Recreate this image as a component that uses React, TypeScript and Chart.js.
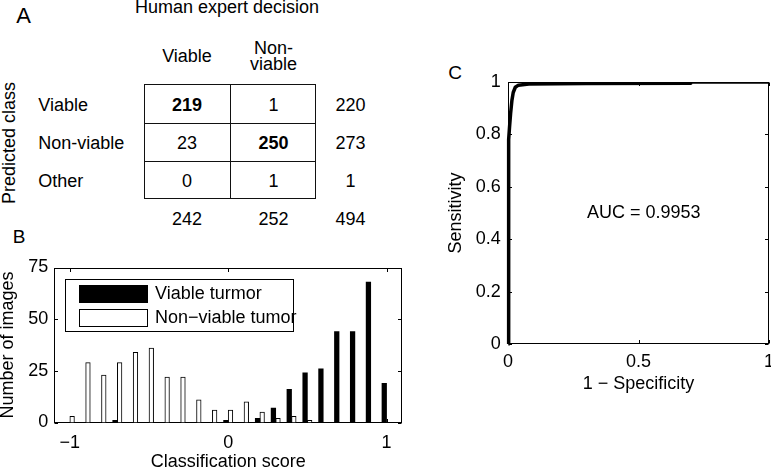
import React, { useEffect, useRef } from "react";
import { Chart, registerables } from "chart.js";

Chart.register(...registerables);

const FONT_FAMILY = '"Liberation Sans", Arial, Helvetica, sans-serif';
const FONT_SIZE = 18;

// ---- Panel A: confusion matrix ----
const expertClasses = ["Viable", "Non-viable"];
const predictedClasses = ["Viable", "Non-viable", "Other"];
const countsPredViable = [219, 1];
const countsPredNonViable = [23, 250];
const countsPredOther = [0, 1];
const rowTotals = [220, 273, 1];
const columnTotals = [242, 252];
const grandTotal = 494;

// ---- Panel B: histogram of classification scores ----
const scoreBins = [-1.0, -0.9, -0.8, -0.7, -0.6, -0.5, -0.4, -0.3, -0.2, -0.1, 0.0, 0.1, 0.2, 0.3, 0.4, 0.5, 0.6, 0.7, 0.8, 0.9, 1.0];
const viableTumorCounts = [0, 0, 0, 1, 0, 0, 0, 0, 0, 0, 1, 0, 2, 7, 16, 24, 26, 44, 44, 68, 19];
const nonViableTumorCounts = [3, 29, 23, 29, 34, 36, 22, 22, 11, 6, 6, 10, 5, 2, 3, 1, 0, 0, 0, 0, 0];
const histXTicks = [-1, 0, 1];
const histYTicks = [0, 25, 50, 75];

// ---- Panel C: ROC curve ----
const rocFpr = [0.002, 0.002, 0.003, 0.006, 0.01, 0.015, 0.02, 0.028, 0.04, 0.08, 0.3, 0.7, 0.7, 1];
const rocTpr = [0, 0.6, 0.78, 0.83, 0.88, 0.93, 0.96, 0.98, 0.988, 0.992, 0.994, 0.995, 1, 1];
const rocXTicks = [0, 0.5, 1];
const rocYTicks = [0, 0.2, 0.4, 0.6, 0.8, 1];
const aucText = "AUC = 0.9953";

const font = { family: FONT_FAMILY, size: FONT_SIZE, lineHeight: 1.2 };
const fmt = (v: number) => String(v).replace("-", "\u2212");

function framePlugin(tickLen: number) {
  return {
    id: "frame",
    beforeDatasetsDraw(chart: any) {
      const { ctx, chartArea: a, scales } = chart;
      ctx.save();
      ctx.strokeStyle = "#000";
      ctx.lineWidth = 1;
      const l = Math.round(a.left) + 0.5;
      const r = Math.round(a.right) - 0.5;
      const t = Math.round(a.top) + 0.5;
      const b = Math.round(a.bottom) - 0.5;
      ctx.strokeRect(l, t, r - l, b - t);
      ctx.beginPath();
      scales.x.ticks.forEach((tk: any) => {
        const px = Math.round(scales.x.getPixelForValue(tk.value)) + 0.5;
        ctx.moveTo(px, b);
        ctx.lineTo(px, b - tickLen);
        ctx.moveTo(px, t);
        ctx.lineTo(px, t + tickLen);
      });
      scales.y.ticks.forEach((tk: any) => {
        const py = Math.round(scales.y.getPixelForValue(tk.value)) + 0.5;
        ctx.moveTo(l, py);
        ctx.lineTo(l + tickLen, py);
        ctx.moveTo(r, py);
        ctx.lineTo(r - tickLen, py);
      });
      ctx.stroke();
      ctx.restore();
    },
  };
}

const histLegendPlugin = {
  id: "histLegend",
  afterDatasetsDraw(chart: any) {
    const { ctx, chartArea: a } = chart;
    const x0 = Math.round(a.left) + 11;
    const y0 = Math.round(a.top) + 11;
    const w = 228;
    const h = 52;
    ctx.save();
    ctx.fillStyle = "#fff";
    ctx.fillRect(x0, y0, w, h);
    ctx.strokeStyle = "#000";
    ctx.lineWidth = 1;
    ctx.strokeRect(x0 + 0.5, y0 + 0.5, w, h);
    ctx.font = `${FONT_SIZE}px ${FONT_FAMILY}`;
    ctx.textBaseline = "middle";
    ctx.textAlign = "left";
    chart.data.datasets.forEach((ds: any, i: number) => {
      const sy = y0 + 6 + i * 24;
      ctx.fillStyle = ds.backgroundColor;
      ctx.fillRect(x0 + 14, sy, 69, 18);
      if (ds.borderWidth) {
        ctx.strokeStyle = ds.borderColor;
        ctx.strokeRect(x0 + 14.5, sy + 0.5, 68, 17);
      }
      ctx.fillStyle = "#000";
      ctx.fillText(ds.label, x0 + 90, sy + 9.5);
    });
    ctx.restore();
  },
};

const aucPlugin = {
  id: "auc",
  afterDatasetsDraw(chart: any) {
    const { ctx, scales } = chart;
    ctx.save();
    ctx.font = `${FONT_SIZE}px ${FONT_FAMILY}`;
    ctx.fillStyle = "#000";
    ctx.textAlign = "center";
    ctx.textBaseline = "middle";
    ctx.fillText(aucText, scales.x.getPixelForValue(0.52), scales.y.getPixelForValue(0.5));
    ctx.restore();
  },
};

function Txt(props: { x: number; y: number; text: string | number; size?: number; bold?: boolean; rotate?: boolean; left?: boolean }) {
  const { x, y, text, size = FONT_SIZE, bold = false, rotate = false, left = false } = props;
  return (
    <div
      style={{
        position: "absolute",
        left: x,
        top: y,
        transform: `translate(${left ? "0" : "-50%"}, -50%)${rotate ? " rotate(-90deg)" : ""}`,
        fontFamily: FONT_FAMILY,
        fontSize: size,
        lineHeight: 1,
        whiteSpace: "nowrap",
        fontWeight: bold ? 700 : 400,
        color: "#000",
      }}
    >
      {text}
    </div>
  );
}

export default function App() {
  const histRef = useRef<HTMLCanvasElement>(null);
  const rocRef = useRef<HTMLCanvasElement>(null);

  useEffect(() => {
    const hist = new Chart(histRef.current as HTMLCanvasElement, {
      type: "bar",
      data: {
        datasets: [
          {
            label: "Viable turmor",
            data: scoreBins.map((x, i) => ({ x, y: viableTumorCounts[i] > 0 ? viableTumorCounts[i] : null })),
            backgroundColor: "#000",
            borderWidth: 0,
            barThickness: 4.6,
          },
          {
            label: "Non\u2212viable tumor",
            data: scoreBins.map((x, i) => ({ x, y: nonViableTumorCounts[i] > 0 ? nonViableTumorCounts[i] : null })),
            backgroundColor: "#fff",
            borderColor: "#000",
            borderWidth: 1,
            barThickness: 4.6,
          },
        ],
      } as any,
      options: {
        animation: false,
        responsive: false,
        devicePixelRatio: 1,
        layout: { padding: { left: 0, right: 27.6, top: 37.5, bottom: 0 } },
        plugins: { legend: { display: false }, tooltip: { enabled: false } },
        scales: {
          x: {
            type: "linear",
            min: -1.1,
            max: 1.1,
            offset: false,
            afterBuildTicks: (s: any) => {
              s.ticks = histXTicks.map((v) => ({ value: v }));
            },
            afterFit: (s: any) => {
              s.height = 57.5;
            },
            grid: { display: false, drawTicks: false },
            border: { display: false },
            ticks: { padding: 9.4, color: "#000", font, maxRotation: 0, autoSkip: false, callback: (v: any) => fmt(v) },
            title: { display: true, text: "Classification score", color: "#000", font, padding: { top: 0, bottom: 7.2 } },
          },
          y: {
            min: 0,
            max: 75,
            afterBuildTicks: (s: any) => {
              s.ticks = histYTicks.map((v) => ({ value: v }));
            },
            afterFit: (s: any) => {
              s.width = 64;
            },
            grid: { display: false, drawTicks: false },
            border: { display: false },
            ticks: { padding: 5.7, color: "#000", font, callback: (v: any) => fmt(v) },
            title: { display: true, text: "Number of images", color: "#000", font, padding: { top: 7.2, bottom: 0 } },
          },
        },
      } as any,
      plugins: [framePlugin(3.5), histLegendPlugin],
    });

    const roc = new Chart(rocRef.current as HTMLCanvasElement, {
      type: "scatter",
      data: {
        datasets: [
          {
            data: rocFpr.map((x, i) => ({ x, y: rocTpr[i] })),
            showLine: true,
            borderColor: "#000",
            borderWidth: 3.5,
            pointRadius: 0,
            fill: false,
            tension: 0,
            borderJoinStyle: "round",
            clip: { left: 6, top: 0, right: 0, bottom: 2 },
          },
        ],
      } as any,
      options: {
        animation: false,
        responsive: false,
        devicePixelRatio: 1,
        layout: { padding: { left: 0, right: 11.7, top: 42, bottom: 0 } },
        plugins: { legend: { display: false }, tooltip: { enabled: false } },
        scales: {
          x: {
            type: "linear",
            min: 0,
            max: 1,
            afterBuildTicks: (s: any) => {
              s.ticks = rocXTicks.map((v) => ({ value: v }));
            },
            afterFit: (s: any) => {
              s.height = 56;
            },
            grid: { display: false, drawTicks: false },
            border: { display: false },
            ticks: { padding: 6.9, color: "#000", font, maxRotation: 0, autoSkip: false, callback: (v: any) => fmt(v) },
            title: { display: true, text: "1 \u2212 Specificity", color: "#000", font, padding: { top: 0, bottom: 5.2 } },
          },
          y: {
            min: 0,
            max: 1,
            afterBuildTicks: (s: any) => {
              s.ticks = rocYTicks.map((v) => ({ value: v }));
            },
            afterFit: (s: any) => {
              s.width = 88;
            },
            grid: { display: false, drawTicks: false },
            border: { display: false },
            ticks: { padding: 7.3, color: "#000", font, callback: (v: any) => fmt(v) },
            title: { display: true, text: "Sensitivity", color: "#000", font, padding: { top: 25.2, bottom: 0 } },
          },
        },
      } as any,
      plugins: [framePlugin(3.5), aucPlugin],
    });

    return () => {
      hist.destroy();
      roc.destroy();
    };
  }, []);

  const matrixCounts = [countsPredViable, countsPredNonViable, countsPredOther];
  const colX = [187, 273.5];
  const totalX = 350.5;
  const rowY = [105, 143, 181];
  const totalY = 219;
  const rowLabelX = 38.3;

  return (
    <div
      style={{
        position: "absolute",
        left: 0,
        top: 0,
        width: 771,
        height: 471,
        overflow: "hidden",
        background: "#fff",
      }}
    >
      {/* Panel A */}
      <Txt x={23.5} y={16.3} text="A" size={22} />
      <Txt x={227} y={6.5} text="Human expert decision" />
      <Txt x={colX[0]} y={56.3} text={expertClasses[0]} />
      <Txt x={colX[1]} y={48.3} text="Non-" />
      <Txt x={colX[1]} y={64} text="viable" />
      <Txt x={8.5} y={143} text="Predicted class" rotate />
      {predictedClasses.map((c, i) => (
        <Txt key={"r" + i} x={rowLabelX} y={rowY[i]} text={c} left />
      ))}
      <div style={{ position: "absolute", left: 144, top: 84, width: 172, height: 115, border: "1px solid #111", boxSizing: "border-box" }} />
      <div style={{ position: "absolute", left: 229.5, top: 84, width: 1, height: 115, background: "#111" }} />
      <div style={{ position: "absolute", left: 144, top: 122.5, width: 172, height: 1, background: "#111" }} />
      <div style={{ position: "absolute", left: 144, top: 160.5, width: 172, height: 1, background: "#111" }} />
      {matrixCounts.map((row, i) =>
        row.map((v, j) => <Txt key={`c${i}${j}`} x={colX[j]} y={rowY[i]} text={v} bold={i === j} />)
      )}
      {rowTotals.map((v, i) => (
        <Txt key={"rt" + i} x={totalX} y={rowY[i]} text={v} />
      ))}
      {columnTotals.map((v, j) => (
        <Txt key={"ct" + j} x={colX[j]} y={totalY} text={v} />
      ))}
      <Txt x={totalX} y={totalY} text={grandTotal} />

      {/* Panel B */}
      <Txt x={19} y={236} text="B" size={19} />
      <canvas ref={histRef} width={440} height={250} style={{ position: "absolute", left: -10, top: 230 }} />

      {/* Panel C */}
      <Txt x={455} y={71.7} text="C" size={19} />
      <canvas ref={rocRef} width={361} height={360} style={{ position: "absolute", left: 420, top: 40 }} />
    </div>
  );
}
